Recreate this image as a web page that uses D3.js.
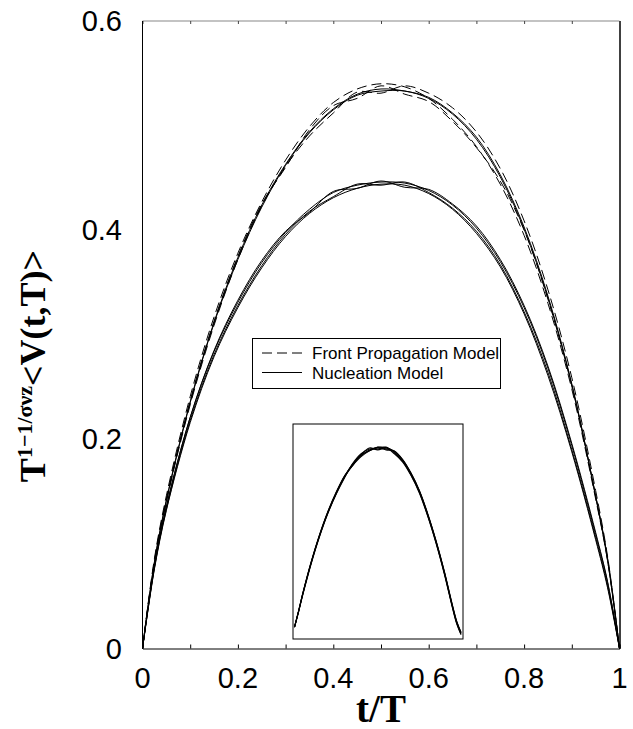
<!DOCTYPE html>
<html><head><meta charset="utf-8">
<script src="https://cdn.jsdelivr.net/npm/d3@7"></script>
<style>body{margin:0;background:#fff}svg{display:block}</style>
</head><body>
<svg id="c" width="633" height="729"></svg>
<script>
// ---- data ----
const tGrid = [0, .025, .05, .1, .15, .2, .25, .3, .35, .4, .45, .5, .55, .6, .65, .7, .75, .8, .85, .9, .95, .975, 1];
const frontProp1 = [0, .086, .146, .241, .317, .378, .427, .467, .499, .522, .535, .540, .537, .526, .506, .480, .444, .395, .330, .248, .143, .084, 0];
const frontProp2 = [0, .082, .140, .233, .309, .372, .423, .461, .490, .512, .532, .531, .538, .531, .517, .494, .459, .409, .343, .259, .151, .088, 0];
const frontProp3 = [0, .084, .143, .237, .313, .375, .425, .460, .496, .519, .526, .538, .530, .523, .504, .479, .447, .400, .334, .251, .146, .086, 0];
const upperSolid1 = [0, .083, .142, .236, .312, .374, .424, .463, .494, .516, .530, .535, .533, .527, .512, .489, .453, .403, .337, .253, .146, .086, 0];
const upperSolid2 = [0, .082, .141, .235, .311, .372, .422, .462, .493, .515, .529, .533, .533, .526, .511, .487, .451, .401, .335, .252, .145, .084, 0];
const nucleation1 = [0, .079, .136, .221, .284, .331, .369, .398, .420, .436, .443, .446, .445, .438, .424, .402, .370, .326, .268, .194, .109, .063, 0];
const nucleation2 = [0, .077, .133, .218, .281, .328, .366, .396, .418, .432, .444, .443, .446, .436, .421, .399, .367, .322, .264, .190, .106, .060, 0];
const nucleation3 = [0, .078, .135, .221, .285, .333, .371, .399, .417, .437, .440, .447, .441, .439, .425, .404, .372, .328, .270, .196, .111, .064, 0];
const nucleation4 = [0, .076, .132, .216, .279, .326, .364, .394, .416, .431, .440, .444, .443, .435, .420, .397, .365, .320, .261, .188, .104, .058, 0];
const inset1 = [.067, .15, .24, .40, .54, .66, .76, .845, .91, .955, .985, .998, .997, .975, .93, .86, .77, .65, .51, .35, .17, .09, .036];
const inset2 = [.067, .15, .235, .395, .535, .655, .755, .84, .915, .965, .99, .99, 1.0, .97, .925, .855, .765, .645, .505, .345, .165, .085, .03];
const inset3 = [.067, .152, .243, .405, .545, .665, .765, .85, .905, .95, .98, 1.0, .99, .98, .935, .865, .775, .655, .515, .355, .175, .095, .04];
const inset4 = [.067, .148, .238, .398, .538, .658, .758, .843, .905, .96, .995, .985, .995, .965, .922, .852, .762, .642, .502, .342, .162, .082, .028];
const inset5 = [.067, .151, .241, .402, .542, .662, .762, .848, .912, .958, .98, .995, .985, .978, .932, .862, .772, .652, .512, .352, .172, .092, .038];
const xTickLabels = ["0", "0.2", "0.4", "0.6", "0.8", "1"];
const yTickLabels = ["0", "0.2", "0.4", "0.6"];
const legendLabels = ["Front Propagation Model", "Nucleation Model"];

// ---- layout ----
const svg = d3.select("#c");
const L = 142.5, R = 619.5, T = 21, B = 648.5;
const x = d3.scaleLinear().domain([0, 1]).range([L, R]);
const y = d3.scaleLinear().domain([0, 0.6]).range([B, T]);
const xi = d3.scaleLinear().domain([0, 1]).range([294.5, 461]);
const yi = d3.scaleLinear().domain([0, 1]).range([640, 447]);

const line = (sx, sy) => d3.line().x((d, i) => sx(tGrid[i])).y(d => sy(d)).curve(d3.curveCatmullRom.alpha(0.5));

// inset box
svg.append("rect").attr("x", 293).attr("y", 424).attr("width", 170).attr("height", 215)
  .attr("fill", "none").attr("stroke", "#000").attr("stroke-width", 1);
[inset1, inset2, inset3, inset4, inset5].forEach(s => {
  svg.append("path").attr("d", line(xi, yi)(s)).attr("fill", "none").attr("stroke", "#000").attr("stroke-width", 1.1);
});

// main curves
[nucleation1, nucleation2, nucleation3, nucleation4, upperSolid1, upperSolid2].forEach(s => {
  svg.append("path").attr("d", line(x, y)(s)).attr("fill", "none").attr("stroke", "#000").attr("stroke-width", 1);
});
[frontProp1, frontProp2, frontProp3].forEach(s => {
  svg.append("path").attr("d", line(x, y)(s)).attr("fill", "none").attr("stroke", "#000").attr("stroke-width", 1)
    .attr("stroke-dasharray", "10,5");
});

// frame
svg.append("line").attr("x1", L).attr("x2", R).attr("y1", T).attr("y2", T).attr("stroke", "#888").attr("stroke-width", 1.2);
svg.append("line").attr("x1", R + 0.5).attr("x2", R + 0.5).attr("y1", T).attr("y2", B).attr("stroke", "#000").attr("stroke-width", 1.5);

// axes
const xAxis = d3.axisBottom(x).tickValues(d3.range(0, 1.0001, 0.1)).tickSize(-4).tickFormat("");
svg.append("g").attr("transform", `translate(0,${B})`).call(xAxis)
  .call(g => g.select(".domain").attr("stroke", "#000"));
const xTop = d3.axisTop(x).tickValues(d3.range(0, 1.0001, 0.1)).tickSize(-3).tickFormat("");
svg.append("g").attr("transform", `translate(0,${T})`).call(xTop)
  .call(g => g.select(".domain").remove()).call(g => g.selectAll("line").attr("stroke", "#444"));
svg.append("line").attr("x1", L).attr("x2", L).attr("y1", T).attr("y2", B).attr("stroke", "#000");

// tick labels
svg.append("g").selectAll("text").data(xTickLabels).join("text")
  .attr("x", d => x(+d)).attr("y", 688).attr("text-anchor", "middle")
  .attr("font-family", "Liberation Sans, Arial, sans-serif").attr("font-size", 29).text(d => d);
svg.append("g").selectAll("text").data(yTickLabels).join("text")
  .attr("x", 122).attr("y", d => y(+d) + 10).attr("text-anchor", "end")
  .attr("font-family", "Liberation Sans, Arial, sans-serif").attr("font-size", 29).text(d => d);

// axis titles
svg.append("text").attr("x", 381).attr("y", 722).attr("text-anchor", "middle")
  .attr("font-family", "Liberation Serif, Times New Roman, serif").attr("font-weight", "bold")
  .attr("font-size", 39).text("t/T");
const yt = svg.append("text").attr("transform", "translate(45,366) rotate(-90)").attr("text-anchor", "middle")
  .attr("font-family", "Liberation Serif, Times New Roman, serif").attr("font-weight", "bold").attr("font-size", 36);
yt.append("tspan").text("T");
yt.append("tspan").attr("dy", -13).attr("font-size", 22).text("1\u22121/\u03c3\u03bdz");
yt.append("tspan").attr("dy", 13).text("<V(t,T)>");

// legend
const lg = svg.append("g");
lg.append("rect").attr("x", 252.5).attr("y", 338.5).attr("width", 248).attr("height", 50)
  .attr("fill", "#fff").attr("stroke", "#000").attr("stroke-width", 1);
legendLabels.forEach((lab, i) => {
  const yy = 353 + i * 19.5;
  lg.append("line").attr("x1", 262).attr("x2", 302).attr("y1", yy).attr("y2", yy)
    .attr("stroke", "#000").attr("stroke-width", 1).attr("stroke-dasharray", i === 0 ? "10,5" : null);
  lg.append("text").attr("x", 312).attr("y", yy + 6).attr("font-family", "Liberation Sans, Arial, sans-serif")
    .attr("font-size", 17).text(lab);
});
</script>
</body></html>
